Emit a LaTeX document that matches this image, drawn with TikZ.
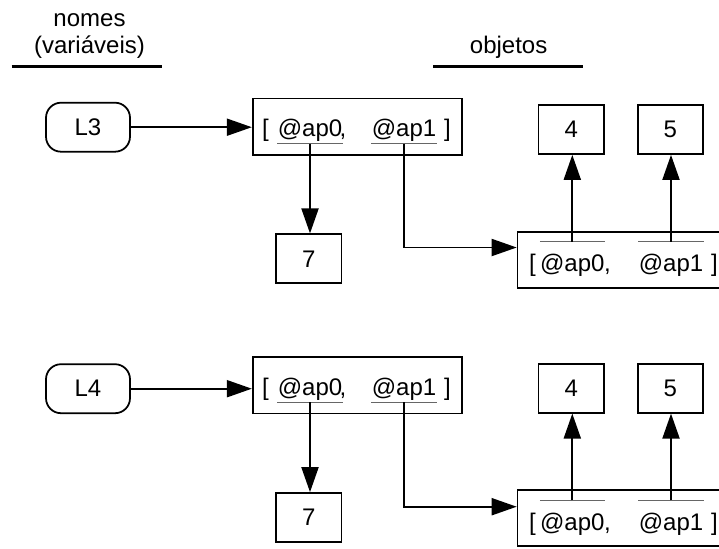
\documentclass[tikz,border=0pt]{standalone}
\usepackage{fontspec}
\setmainfont{Liberation Sans}
\usetikzlibrary{arrows.meta}

\tikzset{
  nome/.style={draw, line width=1pt, rounded corners=0.3cm, minimum width=1.68cm, minimum height=0.98cm},
  obj/.style={draw, line width=1pt, minimum width=1.31cm, minimum height=0.98cm},
  lista/.style={draw, line width=1pt, minimum width=4.18cm, minimum height=1.13cm},
  listab/.style={lista, minimum width=4.09cm, minimum height=1.12cm},
  txt/.style={inner sep=0pt, anchor=base},
  celsub/.style={txt, minimum width=1.26cm, text depth=0.132cm},
  celsob/.style={txt, minimum width=1.24cm, text height=0.588cm},
  seta/.style={line width=1.1pt, -{Triangle[length=0.5cm,width=0.34cm]}},
  traco/.style={black!60, line width=0.6pt}
}

\begin{document}
\begin{tikzpicture}[x=0.02cm, y=-0.02cm, font=\fontsize{13.66pt}{16pt}\selectfont]
\useasboundingbox (0,0) rectangle (719,548);
\clip (0,0) rectangle (719,548);

% titulos
\node [txt] (hdNomes) at (89.5,26.7) {nomes};
\node [txt] (hdVar) at (89.5,53) {(variáveis)};
\node [txt] (hdObj) at (508.6,53) {objetos};
\draw [line width=1.7pt] (11.5,66.7) -- (162,66.7);
\draw [line width=1.7pt] (433,66.7) -- (583,66.7);

% L3
\node [nome] (L3) at (88,127.2) {L3};
\node [lista] (lst3) at (357.2,126.7) {};
\node [txt] (ab3) at (265.5,136.7) {[};
\node [celsub] (p03) at (310,136.7) {@ap0};
\node [txt] (vg3) at (343,136.7) {,};
\node [celsub] (p13) at (404,136.7) {@ap1};
\node [txt] (fc3) at (447.5,136.7) {]};
\draw [traco] (p03.south west) -- (p03.south east);
\draw [traco] (p13.south west) -- (p13.south east);
\node [obj] (n73) at (308.8,258.8) {7};
\node [listab] (lstB3) at (619.8,259.7) {};
\node [txt] (abB3) at (532.5,271.7) {[};
\node [celsob] (q03) at (572.3,271.7) {@ap0};
\node [txt] (vgB3) at (607.5,271.7) {,};
\node [celsob] (q13) at (671,271.7) {@ap1};
\node [txt] (fcB3) at (714.5,271.7) {]};
\draw [traco] (q03.north west) -- (q03.north east);
\draw [traco] (q13.north west) -- (q13.north east);
\node [obj] (n43) at (571.2,129.5) {4};
\node [obj] (n53) at (670.4,129.5) {5};
\draw [seta] (L3.east) -- (L3.east -| lst3.west);
\draw [seta] (p03.south) -- (p03.south |- n73.north);
\draw [seta] (p13.south) |- ([yshift=0.244cm]lstB3.west);
\draw [seta] (q03.north) -- (q03.north |- n43.south);
\draw [seta] (q13.north) -- (q13.north |- n53.south);

% L4
\node [nome] (L4) at (88,388.7) {L4};
\node [lista] (lst4) at (357.2,385.3) {};
\node [txt] (ab4) at (265.5,395.3) {[};
\node [celsub] (p04) at (310,395.3) {@ap0};
\node [txt] (vg4) at (343,395.3) {,};
\node [celsub] (p14) at (404,395.3) {@ap1};
\node [txt] (fc4) at (447.5,395.3) {]};
\draw [traco] (p04.south west) -- (p04.south east);
\draw [traco] (p14.south west) -- (p14.south east);
\node [obj] (n74) at (308.8,517.5) {7};
\node [listab] (lstB4) at (619.8,517.8) {};
\node [txt] (abB4) at (532.5,530.1) {[};
\node [celsob] (q04) at (572.3,530.1) {@ap0};
\node [txt] (vgB4) at (607.5,530.1) {,};
\node [celsob] (q14) at (671,530.1) {@ap1};
\node [txt] (fcB4) at (714.5,530.1) {]};
\draw [traco] (q04.north west) -- (q04.north east);
\draw [traco] (q14.north west) -- (q14.north east);
\node [obj] (n44) at (571.2,388.2) {4};
\node [obj] (n54) at (670.4,388.2) {5};
\draw [seta] (L4.east) -- (L4.east -| lst4.west);
\draw [seta] (p04.south) -- (p04.south |- n74.north);
\draw [seta] (p14.south) |- ([yshift=0.222cm]lstB4.west);
\draw [seta] (q04.north) -- (q04.north |- n44.south);
\draw [seta] (q14.north) -- (q14.north |- n54.south);
\end{tikzpicture}
\end{document}
